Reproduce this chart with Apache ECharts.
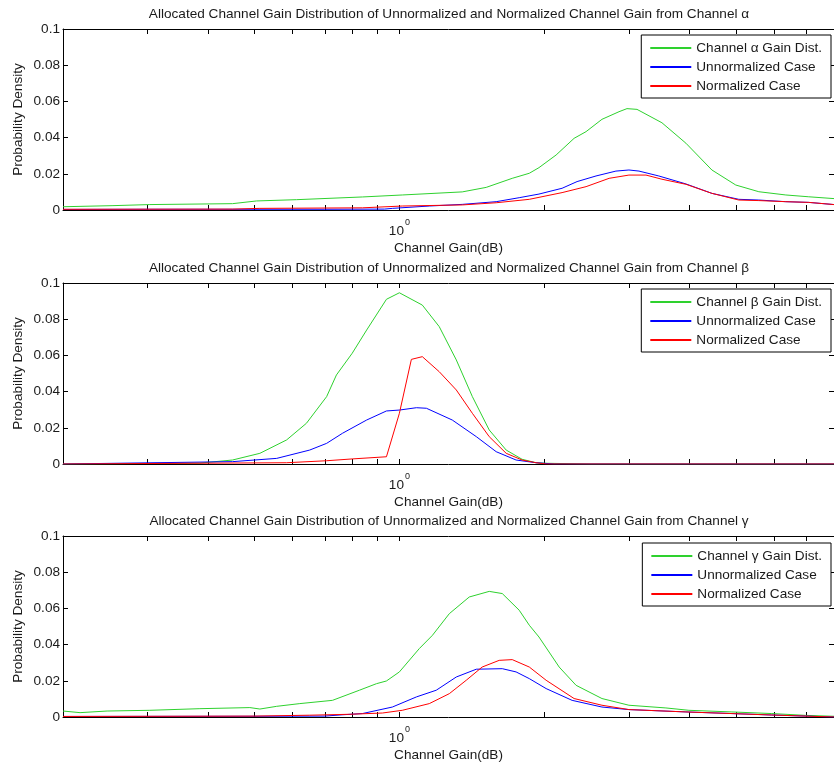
<!DOCTYPE html>
<html><head><meta charset="utf-8">
<script src="https://cdn.jsdelivr.net/npm/echarts@6/dist/echarts.min.js"></script>
<style>html,body{margin:0;padding:0;background:#fff}#c{width:834px;height:766px}</style>
</head><body><div id="c"></div>
<script>
// ---- data (x = channel gain, linear value shown on log axis; y = probability density) ----
const alphaGainX = [0.200,0.254,0.303,0.450,0.505,0.611,0.838,1.014,1.351,1.515,1.716,1.862,1.950,2.117,2.307,2.443,2.636,2.860,2.971,3.117,3.512,3.939,4.460,5.000,5.583,6.353,7.090,8.0];
const alphaGainY = [0.0018,0.0024,0.0030,0.0035,0.0050,0.0057,0.0072,0.0083,0.0100,0.0125,0.0175,0.0203,0.0234,0.0304,0.0396,0.0433,0.0501,0.0543,0.0560,0.0556,0.0482,0.0369,0.0221,0.0138,0.0101,0.0083,0.0073,0.0063];
const alphaUnX = [0.200,0.303,0.500,0.700,0.931,0.967,1.154,1.351,1.589,1.774,1.950,2.178,2.340,2.562,2.818,2.999,3.147,3.460,3.939,4.460,5.073,5.583,6.353,7.090,8.0];
const alphaUnY = [0.0003,0.0004,0.0004,0.0004,0.0005,0.0009,0.0022,0.0031,0.0046,0.0068,0.0088,0.0120,0.0157,0.0188,0.0215,0.0221,0.0215,0.0188,0.0144,0.0092,0.0059,0.0055,0.0046,0.0042,0.0030];
const alphaNoX = [0.200,0.450,0.513,0.838,1.014,1.351,1.589,1.862,2.178,2.443,2.728,2.999,3.254,3.512,3.939,4.460,5.073,5.583,6.353,7.090,8.0];
const alphaNoY = [0.0004,0.0005,0.0009,0.0012,0.0022,0.0028,0.0040,0.0059,0.0096,0.0129,0.0175,0.0193,0.0193,0.0170,0.0142,0.0092,0.0055,0.0052,0.0046,0.0042,0.0030];

const betaGainX = [0.200,0.385,0.450,0.513,0.583,0.641,0.706,0.740,0.798,0.855,0.940,1.000,1.116,1.210,1.313,1.418,1.537,1.667,1.799,1.923,2.018,2.5,8.0];
const betaGainY = [0.0,0.0005,0.0022,0.0059,0.0133,0.0225,0.0372,0.0492,0.0612,0.0740,0.0910,0.0946,0.0878,0.0759,0.0575,0.0372,0.0188,0.0077,0.0026,0.0007,0.0004,0.0,0.0];
const betaUnX = [0.200,0.450,0.556,0.651,0.706,0.762,0.855,0.940,1.000,1.085,1.138,1.288,1.445,1.589,1.748,1.923,2.1,8.0];
const betaUnY = [0.0,0.0013,0.0031,0.0077,0.0114,0.0170,0.0243,0.0293,0.0298,0.0311,0.0308,0.0243,0.0151,0.0068,0.0022,0.0007,0.0,0.0];
const betaNoX = [0.200,0.583,0.706,0.798,0.940,1.000,1.059,1.116,1.210,1.313,1.418,1.537,1.667,1.799,1.923,2.018,8.0];
const betaNoY = [0.0,0.0007,0.0018,0.0028,0.0040,0.0280,0.0578,0.0593,0.0510,0.0409,0.0280,0.0151,0.0059,0.0022,0.0007,0.0,0.0];

const gammaGainX = [0.200,0.217,0.247,0.303,0.385,0.489,0.513,0.556,0.621,0.726,0.826,0.896,0.940,1.000,1.100,1.171,1.270,1.397,1.537,1.636,1.774,1.862,1.950,2.148,2.329,2.636,2.999,3.579,3.996,4.906,5.940,6.987,8.0];
const gammaGainY = [0.0033,0.0024,0.0033,0.0037,0.0046,0.0052,0.0044,0.0059,0.0074,0.0092,0.0148,0.0184,0.0199,0.0249,0.0378,0.0451,0.0571,0.0663,0.0694,0.0682,0.0590,0.0507,0.0442,0.0276,0.0175,0.0102,0.0065,0.0050,0.0037,0.0028,0.0019,0.0009,0.0004];
const gammaUnX = [0.200,0.500,0.700,0.760,0.838,0.967,1.085,1.193,1.313,1.445,1.636,1.748,1.862,2.018,2.285,2.636,2.999,3.939,4.906,5.940,8.0];
const gammaUnY = [0.0003,0.0004,0.0005,0.0012,0.0019,0.0055,0.0111,0.0148,0.0221,0.0264,0.0267,0.0249,0.0212,0.0157,0.0092,0.0055,0.0041,0.0028,0.0019,0.0011,0.0];
const gammaNoX = [0.200,0.500,0.651,0.787,0.922,1.014,1.154,1.270,1.377,1.486,1.612,1.716,1.862,2.018,2.307,2.636,2.999,3.939,5.940,8.0];
const gammaNoY = [0.0003,0.0005,0.0010,0.0015,0.0022,0.0037,0.0074,0.0129,0.0203,0.0276,0.0313,0.0317,0.0276,0.0203,0.0102,0.0065,0.0041,0.0028,0.0011,0.0];

const minorTickGains = [0.3,0.4,0.5,0.6,0.7,0.8,0.9,1,2,3,4,5,6,7];
const xMinGain = 0.2, xMaxGain = 8;
const yTicks = [0, 0.02, 0.04, 0.06, 0.08, 0.1];
const titles = [
  'Allocated Channel Gain Distribution of Unnormalized and Normalized Channel Gain from Channel \u03b1',
  'Allocated Channel Gain Distribution of Unnormalized and Normalized Channel Gain from Channel \u03b2',
  'Allocated Channel Gain Distribution of Unnormalized and Normalized Channel Gain from Channel \u03b3'
];
const gainNames = ['Channel \u03b1 Gain Dist.', 'Channel \u03b2 Gain Dist.', 'Channel \u03b3 Gain Dist.'];
const unName = 'Unnormalized Case', noName = 'Normalized Case';
const panels = [
  [[alphaGainX, alphaGainY], [alphaUnX, alphaUnY], [alphaNoX, alphaNoY]],
  [[betaGainX, betaGainY], [betaUnX, betaUnY], [betaNoX, betaNoY]],
  [[gammaGainX, gammaGainY], [gammaUnX, gammaUnY], [gammaNoX, gammaNoY]]
];

// ---- chart ----
const FONT = 'Liberation Sans, Arial, sans-serif';
const FS = 13.6;
const TXT = '#1a1a1a';
const colors = ['#2ed12e', '#0000ff', '#ff0000'];
const gridTops = [29, 283, 536];
const titleTops = [6, 260, 513.5];
const legendTops = [35, 289, 543];
const L10 = Math.log10;
const tickVals = minorTickGains.map(L10);

const grid = [], xAxis = [], yAxis = [], series = [], title = [], legend = [];
gridTops.forEach((top, p) => {
  grid.push({left: 63, top: top, width: 772, height: 181, containLabel: false});
  title.push({text: titles[p], left: 449, top: titleTops[p], textAlign: 'center', padding: 0,
    textStyle: {fontFamily: FONT, fontSize: FS, fontWeight: 'normal', color: TXT, lineHeight: 16}});
  const common = {type: 'value', gridIndex: p, min: L10(xMinGain), max: L10(xMaxGain),
    axisLine: {show: true, onZero: false, lineStyle: {color: '#000', width: 1}},
    splitLine: {show: false},
    axisTick: {show: true, inside: true, length: 5, customValues: tickVals, lineStyle: {color: '#000'}}};
  xAxis.push(Object.assign({}, common, {position: 'bottom',
    name: 'Channel Gain(dB)', nameLocation: 'middle', nameGap: 30, nameMoveOverlap: false,
    nameTextStyle: {fontFamily: FONT, fontSize: FS, color: TXT, lineHeight: 16},
    axisLabel: {show: true, customValues: [0], margin: 8, color: TXT,
      formatter: v => (Math.abs(v) < 1e-9 ? '{a|10}{b|0}' : ''),
      rich: {a: {fontFamily: FONT, fontSize: FS, color: TXT, lineHeight: 20, verticalAlign: 'bottom'},
             b: {fontFamily: FONT, fontSize: 9, color: TXT, lineHeight: 20, verticalAlign: 'top', padding: [0, 0, 0, 1]}}}}));
  xAxis.push(Object.assign({}, common, {position: 'top', axisLabel: {show: false}}));
  const ycommon = {type: 'value', gridIndex: p, min: yTicks[0], max: yTicks[yTicks.length - 1],
    interval: yTicks[1] - yTicks[0],
    axisLine: {show: true, onZero: false, lineStyle: {color: '#000', width: 1}},
    splitLine: {show: false},
    axisTick: {show: true, inside: true, length: 5, lineStyle: {color: '#000'}}};
  yAxis.push(Object.assign({}, ycommon, {position: 'left',
    name: 'Probability Density', nameLocation: 'middle', nameGap: 37, nameRotate: 90, nameMoveOverlap: false,
    nameTextStyle: {fontFamily: FONT, fontSize: FS, color: TXT, lineHeight: 16},
    axisLabel: {show: true, margin: 3, fontFamily: FONT, fontSize: FS, color: TXT,
      formatter: v => String(+v.toFixed(2))}}));
  yAxis.push(Object.assign({}, ycommon, {position: 'right', axisLabel: {show: false}}));
  const names = [gainNames[p], unName, noName];
  panels[p].forEach((pair, s) => {
    const xs = pair[0], ys = pair[1];
    series.push({type: 'line', name: names[s], xAxisIndex: 2 * p, yAxisIndex: 2 * p,
      data: xs.map((g, i) => [L10(g), ys[i]]),
      symbol: 'none', showSymbol: false, smooth: false, animation: false,
      lineStyle: {color: colors[s], width: 1}, itemStyle: {color: colors[s]}, z: 2 + s});
  });
  legend.push({data: names, orient: 'vertical', right: 3, top: legendTops[p],
    itemWidth: 41, itemHeight: 14, itemGap: 5, padding: [6, 9, 5, 8],
    borderColor: '#000', borderWidth: 1, backgroundColor: '#fff', selectedMode: false,
    itemStyle: {opacity: 0},
    textStyle: {fontFamily: FONT, fontSize: FS, color: TXT}});
});

const chart = echarts.init(document.getElementById('c'), null, {renderer: 'canvas'});
chart.setOption({animation: false, backgroundColor: '#fff', title, legend, grid, xAxis, yAxis, series});
</script></body></html>
